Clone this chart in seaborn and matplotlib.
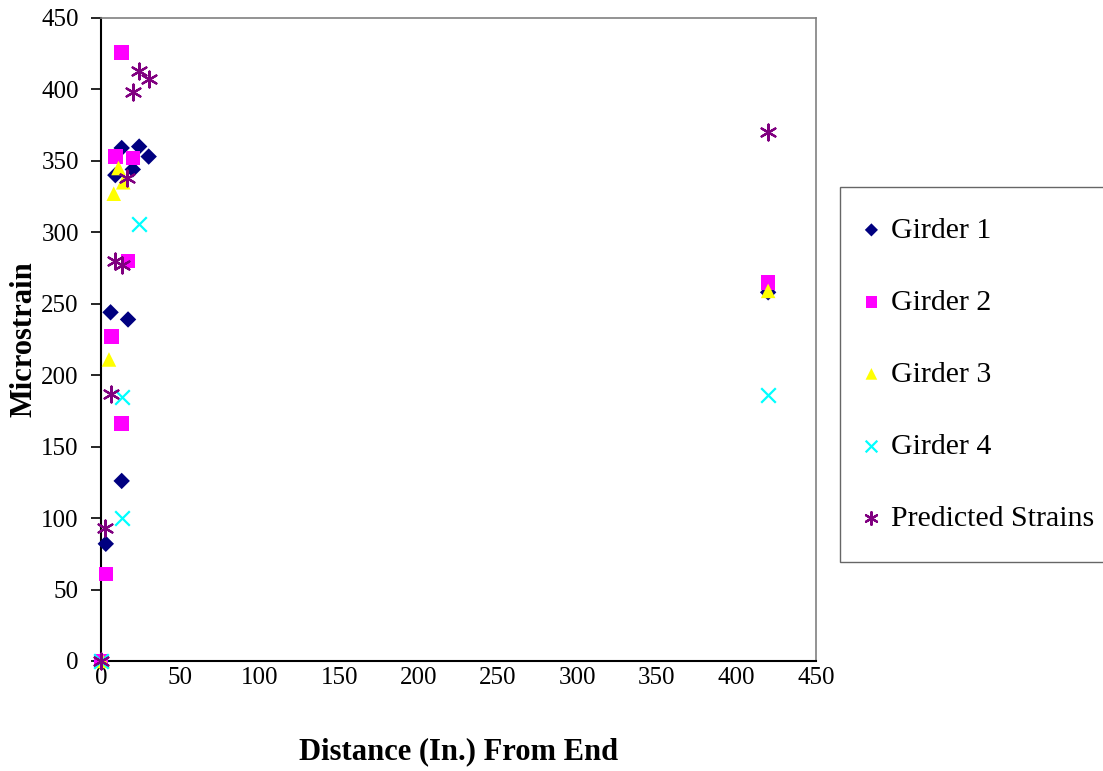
import matplotlib
matplotlib.use("Agg")
import matplotlib.pyplot as plt
import seaborn as sns
import pandas as pd

# Measured strains along the girders, distance from the end in inches
g1_x = [0, 3, 6, 9, 13, 13, 17, 20, 24, 30, 420]
g1_y = [0, 82, 244, 340, 126, 359, 239, 344, 360, 353, 258]

g2_x = [0, 3, 6.5, 9, 13, 13, 17, 20, 420]
g2_y = [0, 61, 227, 353, 426, 166, 280, 352, 265]

g3_x = [1, 5, 8, 11, 14, 420]
g3_y = [0, 211, 327, 345, 335, 259]

g4_x = [0, 13, 13, 24, 420]
g4_y = [0, 100, 185, 306, 186]

pred_x = [0, 2.5, 6, 8.5, 13, 16.5, 20, 24, 30, 420]
pred_y = [0, 93, 187, 280, 277, 338, 398, 413, 407, 370]

series = [
    ("Girder 1", g1_x, g1_y, "#000080", "D", 70),
    ("Girder 2", g2_x, g2_y, "#FF00FF", "s", 110),
    ("Girder 3", g3_x, g3_y, "#FFFF00", "^", 110),
    ("Girder 4", g4_x, g4_y, "#00FFFF", "x", 110),
    ("Predicted Strains", pred_x, pred_y, "#800080", (6, 2, 0), 130),
]

sns.set_style("white")
plt.rcParams["font.family"] = ["Liberation Serif", "DejaVu Serif"]
plt.rcParams["text.color"] = "black"
plt.rcParams["axes.labelcolor"] = "black"

fig = plt.figure(figsize=(11.03, 7.71), dpi=100)
ax = fig.add_axes([0.0916, 0.1427, 0.648, 0.834])

for name, xs, ys, color, marker, size in series:
    df = pd.DataFrame({"x": xs, "y": ys})
    lw = 1.6 if marker in ("x", (6, 2, 0)) else 0
    sns.scatterplot(data=df, x="x", y="y", ax=ax, color=color, marker=marker,
                    s=size, linewidth=lw, edgecolor=color if lw else "none",
                    label=name, clip_on=False, zorder=3)

ax.set_xlim(0, 450)
ax.set_ylim(0, 450)
ax.set_xticks(range(0, 451, 50))
ax.set_yticks(range(0, 451, 50))
ax.tick_params(axis="y", direction="out", length=7, width=1.2,
               labelsize=18, colors="black", left=True, pad=9)
ax.tick_params(axis="x", length=0, labelsize=18, colors="black", pad=4)
ax.spines["left"].set_color("black")
ax.spines["bottom"].set_color("black")
ax.spines["left"].set_linewidth(1.5)
ax.spines["bottom"].set_linewidth(1.5)
ax.spines["top"].set_color("#808080")
ax.spines["right"].set_color("#808080")
ax.spines["top"].set_linewidth(1.2)
ax.spines["right"].set_linewidth(1.2)

ax.set_xlabel("Distance (In.) From End", fontsize=22, fontweight="bold",
              labelpad=35, color="black")
ax.set_ylabel("Microstrain", fontsize=22, fontweight="bold", labelpad=2,
              color="black")

leg = ax.legend(loc="upper left", bbox_to_anchor=(0.7616, 0.7575),
                bbox_transform=fig.transFigure, frameon=True, fancybox=False,
                fontsize=21.5, labelspacing=1.51, handlelength=0.1,
                handletextpad=0.62, borderpad=1.0, borderaxespad=0,
                markerscale=0.8, labelcolor="black")
leg.get_frame().set_edgecolor("#404040")
leg.get_frame().set_linewidth(1.0)

fig.savefig("out.png", dpi=100)
